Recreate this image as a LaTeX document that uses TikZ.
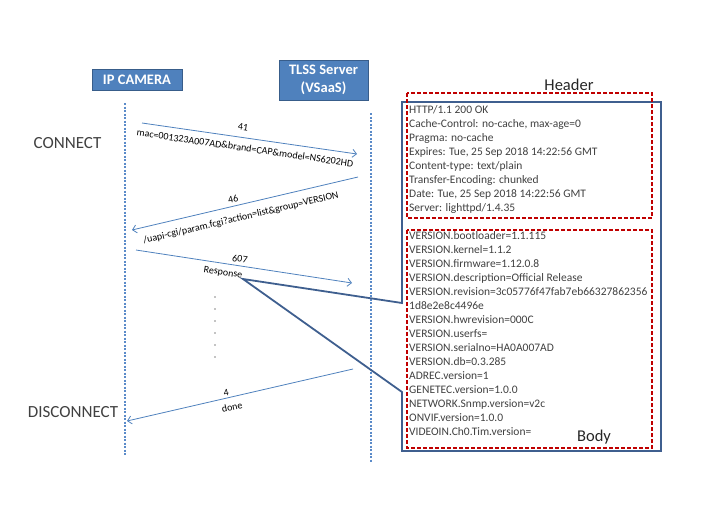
\documentclass[tikz,border=0pt]{standalone}
\usepackage{fontspec}
\setmainfont{Carlito}
\usetikzlibrary{arrows.meta}
\definecolor{boxblue}{HTML}{4F81BD}
\definecolor{boxedge}{HTML}{385D8A}
\definecolor{lifeblue}{HTML}{5B8BC9}
\definecolor{calloutc}{HTML}{3F5F8F}
\definecolor{dred}{HTML}{C00000}
\definecolor{txt}{HTML}{404040}
\begin{document}
\begin{tikzpicture}[x=1pt,y=-1pt,
 actor/.style={draw=boxedge, fill=boxblue, line width=1pt, text=white, font=\fontsize{14.5}{18}\selectfont\bfseries, align=center, inner sep=0pt},
 lifeline/.style={draw=lifeblue, line width=1.1pt, dash pattern=on 2.2pt off 1.3pt},
 msg/.style={draw=boxblue, line width=0.8pt, -{Straight Barb[length=4pt,width=8pt]}},
 lbl/.style={font=\fontsize{10}{12}\selectfont, text=black, inner sep=0pt},
 big/.style={font=\fontsize{17}{20}\selectfont, text=txt, inner sep=0pt},
 redbox/.style={draw=dred, line width=1.8pt, dash pattern=on 4pt off 2pt},
 txtline/.style={font=\fontsize{11.5}{14}\selectfont, text=txt, inner sep=0pt, anchor=base west},
 calloutline/.style={draw=calloutc, line width=1.8pt, line join=miter}
]
\path[use as bounding box] (0,0) rectangle (704,528);

% actors
\node[actor, minimum width=90pt, minimum height=21pt] (cam) at (137,79.5) {IP CAMERA};
\node[actor, minimum width=89pt, minimum height=40pt] (srv) at (323.5,80) {TLSS Server\\(VSaaS)};

% lifelines
\coordinate (camtop) at (125,103);
\coordinate (cambot) at (125,455);
\coordinate (srvtop) at (371,113);
\coordinate (srvbot) at (371,462);
\draw[lifeline] (camtop) -- (cambot);
\draw[lifeline] (srvtop) -- (srvbot);

% phase labels
\node[big] (connect) at (67.5,143) {CONNECT};
\node[big] (disconnect) at (73,412) {DISCONNECT};

% messages
\coordinate (m1s) at (142,123);
\coordinate (m1e) at (357,154);
\draw[msg] (m1s) -- (m1e);
\node[lbl, rotate=-8.2] (l41) at (243,127) {41};
\node[lbl, rotate=-8.2] (mac) at (245,148) {mac=001323A007AD\&brand=CAP\&model=NS6202HD};

\coordinate (m2s) at (358,177);
\coordinate (m2e) at (132,230);
\draw[msg] (m2s) -- (m2e);
\node[lbl, rotate=13.2] (l46) at (233,199) {46};
\node[lbl, rotate=13.2] (uapi) at (241,218) {/uapi-cgi/param.fcgi?action=list\&group=VERSION};

\coordinate (m3s) at (136,250);
\coordinate (m3e) at (352,283);
\draw[msg] (m3s) -- (m3e);
\node[lbl, rotate=-8.7] (l607) at (240,259) {607};
\node[lbl, rotate=-8.7] (resp) at (223,273) {Response};

\foreach \k in {0,...,5} \fill (215,{297+12*\k}) circle (0.7pt);

\coordinate (m4s) at (353,369);
\coordinate (m4e) at (127,421);
\draw[msg] (m4s) -- (m4e);
\node[lbl, rotate=13] (l4) at (226,393) {4};
\node[lbl, rotate=13] (done) at (232,407) {done};

% callout
\coordinate (tip) at (243,279);
\draw[calloutline] (402,102) -- (661,102) -- (661,451) -- (402,451) -- (402,392) -- (tip) -- (402,303) -- cycle;

% red boxes
\draw[redbox] (407,93) rectangle (652,218);
\draw[redbox] (407,230) rectangle (652,448);
\node[font=\fontsize{16.5}{19}\selectfont, text=black!85, inner sep=0pt] (hdr) at (569,85) {Header};
\node[font=\fontsize{16.5}{19}\selectfont, text=black!85, inner sep=0pt] (bdy) at (594,437) {Body};

% header text
\foreach \t [count=\i from 0] in {{HTTP/1.1 200 OK},{Cache-Control: no-cache, max-age=0},{Pragma: no-cache},{Expires: Tue, 25 Sep 2018 14:22:56 GMT},{Content-type: text/plain},{Transfer-Encoding: chunked},{Date: Tue, 25 Sep 2018 14:22:56 GMT},{Server: lighttpd/1.4.35}}
  \node[txtline] (h\i) at (409,{113+14*\i}) {\t};

% body text
\foreach \t [count=\i from 0] in {{VERSION.bootloader=1.1.115},{VERSION.kernel=1.1.2},{VERSION.firmware=1.12.0.8},{VERSION.description=Official Release},{VERSION.revision=3c05776f47fab7eb66327862356},{1d8e2e8c4496e},{VERSION.hwrevision=000C},{VERSION.userfs=},{VERSION.serialno=HA0A007AD},{VERSION.db=0.3.285},{ADREC.version=1},{GENETEC.version=1.0.0},{NETWORK.Snmp.version=v2c},{ONVIF.version=1.0.0},{VIDEOIN.Ch0.Tim.version=}}
  \node[txtline] (b\i) at (409,{239+14*\i}) {\t};
\end{tikzpicture}
\end{document}
